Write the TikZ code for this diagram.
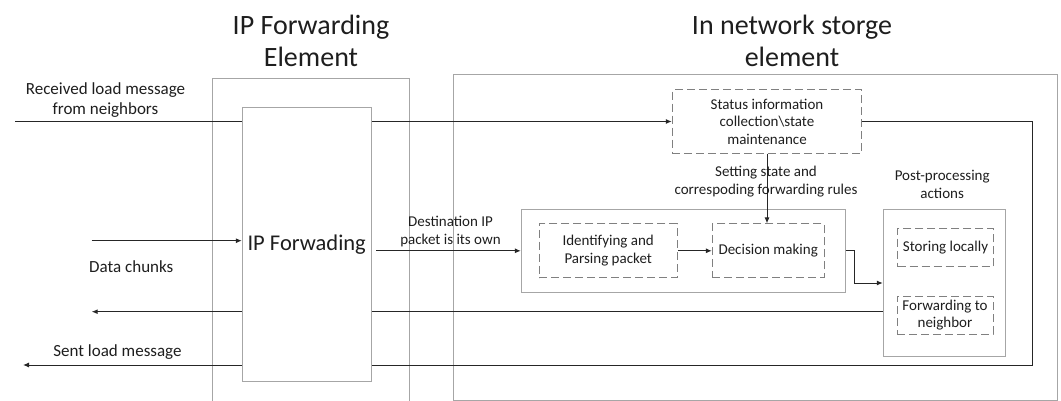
\documentclass[tikz,border=0pt]{standalone}
\usepackage{fontspec}
\setmainfont{Carlito}
\usetikzlibrary{arrows.meta}
\definecolor{framegray}{HTML}{A6A6A6}
\definecolor{dashgray}{HTML}{808080}
\definecolor{linegray}{HTML}{262626}
\definecolor{textgray}{HTML}{1E1E1E}
\tikzset{
  outerbox/.style={draw=framegray, line width=1pt, inner sep=0pt},
  dashbox/.style={draw=dashgray, line width=1pt, dash pattern=on 8pt off 4pt,
    align=center, text=textgray, font=\fontsize{15}{17.5}\selectfont, inner sep=0pt},
  conn/.style={draw=linegray, line width=1pt},
  arr/.style={conn, -{Latex[length=6pt,width=5pt]}},
  lbl/.style={align=center, text=textgray, font=\fontsize{17}{20}\selectfont, inner sep=0pt},
  small/.style={lbl, font=\fontsize{15}{17.5}\selectfont},
  title/.style={lbl, font=\fontsize{28}{31.7}\selectfont},
}
\begin{document}
\begin{tikzpicture}[x=1pt, y=-1pt]
\useasboundingbox (0,0) rectangle (1061,401);
\clip (0,0) rectangle (1061,401);
% the two elements
\node[outerbox, minimum width=196.7pt, minimum height=340pt] (ipfe) at (310.7,249) {};
\node[outerbox, minimum width=604.4pt, minimum height=325pt] (inse) at (755.5,237.5) {};
\node[title, anchor=base] (ipfetitle) at (311,66.7) {IP Forwarding\\Element};
\node[title, anchor=base] (insetitle) at (792,66.7) {In network storge\\element};

% storage element blocks
\node[dashbox, minimum width=189.4pt, minimum height=63.4pt] (status) at (767,121.5) {Status information\\collection\textbackslash state\\maintenance};
\node[outerbox, minimum width=323.7pt, minimum height=83pt] (proc) at (683.2,250.8) {};
\node[dashbox, minimum width=138.3pt, minimum height=53.7pt] (ident) at (608.2,250.8) {Identifying and\\Parsing packet};
\node[dashbox, minimum width=111.7pt, minimum height=53.7pt] (decide) at (768.2,250.8) {Decision making};
\node[outerbox, minimum width=122.4pt, minimum height=147.4pt] (post) at (944.5,283) {};
\node[dashbox, minimum width=95.6pt, minimum height=38.4pt] (store) at (945.5,247.5) {Storing locally};
\node[dashbox, minimum width=96pt, minimum height=38pt] (fwd) at (945,315) {Forwarding to\\neighbor};

% loose ends
\coordinate (recvin) at (15,121.5);
\coordinate (datain) at (91.7,240.7);
\coordinate (dataout) at (91.7,311.7);
\coordinate (sentout) at (23,365);
\coordinate (sentturn) at (1032.3,365);
\coordinate (destin) at (376,250.8);

% lines running behind the forwarding block
\draw[arr] (recvin) -- (status.west);
\draw[arr] (post.west |- dataout) -- (dataout);
\draw[arr] (status.east) -| (sentturn) -- (sentout);

\node[outerbox, fill=white, text=textgray, font=\fontsize{22.5}{26}\selectfont,
  minimum width=128.7pt, minimum height=273.7pt] (ipf) at (306.7,244.2) {IP Forwading};

\draw[arr] (datain) -- (datain -| ipf.west);
\draw[arr] (destin) -- (proc.west);
\draw[arr] (ident) -- (decide);
\draw[arr] (status.south) -- (status.south |- decide.north);
\draw[arr] (proc.east) -- ++(9.3,0) |- (post.west);

% labels
\node[lbl, anchor=base] (recvlbl) at (105.5,114.3) {Received load message\\from neighbors};
\node[lbl, anchor=base] (datalbl) at (131.3,272.7) {Data chunks};
\node[lbl, anchor=base] (sentlbl) at (117.5,356.7) {Sent load message};
\node[small, anchor=base] (destlbl) at (450.5,244.3) {Destination IP\\packet is its own};
\node[small, anchor=base] (setlbl) at (766,194.5) {Setting state and\\correspoding forwarding rules};
\node[small, anchor=base] (postlbl) at (942.2,198.5) {Post-processing\\actions};
\end{tikzpicture}
\end{document}
